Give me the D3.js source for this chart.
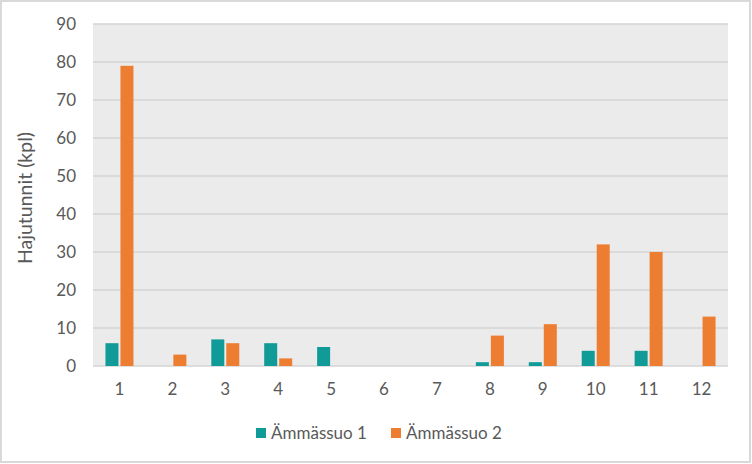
<!DOCTYPE html>
<html lang="fi">
<head>
  <meta charset="UTF-8">
  <title>Hajutunnit</title>
  <script src="https://d3js.org/d3.v7.min.js"></script>
  <style>
    body { margin: 0; background: #fff; }
    text { font-family: Lato, "Open Sans", sans-serif; fill: #595959; }
  </style>
</head>
<body>
  <div id="chart"></div>
  <script>
    // data
    const categories = ["1", "2", "3", "4", "5", "6", "7", "8", "9", "10", "11", "12"];
    const seriesNames = ["Ämmässuo 1", "Ämmässuo 2"];
    const amm1 = [6, 0, 7, 6, 5, 0, 0, 1, 1, 4, 4, 0];
    const amm2 = [79, 3, 6, 2, 0, 0, 0, 8, 11, 32, 30, 13];
    const yTicks = [0, 10, 20, 30, 40, 50, 60, 70, 80, 90];
    const colors = ["#109a98", "#ed7d31"];

    const width = 752, height = 464;
    const margin = { top: 24, right: 24, bottom: 98, left: 93 };
    const plotW = 728 - margin.left;
    const plotH = 366 - margin.top;

    const svg = d3.select("#chart").append("svg")
      .attr("width", width)
      .attr("height", height);

    // outer frame
    svg.append("rect")
      .attr("x", 1).attr("y", 1)
      .attr("width", 749).attr("height", 461)
      .attr("fill", "#fff")
      .attr("stroke", "#d9d9d9")
      .attr("stroke-width", 2);

    const g = svg.append("g").attr("transform", `translate(${margin.left},${margin.top})`);

    const x = d3.scaleBand().domain(categories).range([0, plotW]).paddingInner(0).paddingOuter(0);
    const y = d3.scaleLinear().domain([0, 90]).range([plotH, 0]);

    g.append("rect")
      .attr("width", plotW).attr("height", plotH)
      .attr("fill", "#ebebeb");

    // gridlines
    g.selectAll(".grid")
      .data(yTicks)
      .enter()
      .append("line")
      .attr("x1", 0).attr("x2", plotW)
      .attr("y1", d => y(d)).attr("y2", d => y(d))
      .attr("stroke", "#d4d4d4")
      .attr("stroke-width", 1.3);

    // bars
    const barW = 13, gap = 2;
    const xs = d3.scaleOrdinal().domain([0, 1]).range([-barW - gap / 2, gap / 2]);
    const series = [amm1, amm2];
    series.forEach((vals, si) => {
      g.selectAll(".bar" + si)
        .data(vals)
        .enter()
        .append("rect")
        .attr("x", (d, i) => x(categories[i]) + x.bandwidth() / 2 + xs(si))
        .attr("y", d => y(d))
        .attr("width", barW)
        .attr("height", d => plotH - y(d))
        .attr("fill", colors[si]);
    });

    // y axis labels
    const yAxis = d3.axisLeft(y).tickValues(yTicks).tickSize(0).tickPadding(17);
    g.append("g").call(yAxis)
      .call(a => a.select(".domain").remove())
      .selectAll("text")
      .style("font-size", "17px");

    // x axis labels
    const xAxis = d3.axisBottom(x).tickSize(0).tickPadding(17);
    g.append("g").attr("transform", `translate(0,${plotH})`).call(xAxis)
      .call(a => a.select(".domain").remove())
      .selectAll("text")
      .style("font-size", "17px");

    // y axis title
    svg.append("text")
      .attr("transform", `translate(32,198) rotate(-90)`)
      .attr("text-anchor", "middle")
      .style("font-size", "19.5px")
      .text("Hajutunnit (kpl)");

    // legend
    const legend = svg.append("g").attr("transform", "translate(256,428)");
    const legendX = [0, 135];
    seriesNames.forEach((name, i) => {
      const item = legend.append("g").attr("transform", `translate(${legendX[i]},0)`);
      item.append("rect").attr("width", 10).attr("height", 10).attr("fill", colors[i]);
      item.append("text").attr("x", 15).attr("y", 11).style("font-size", "17px").text(name);
    });
  </script>
</body>
</html>
